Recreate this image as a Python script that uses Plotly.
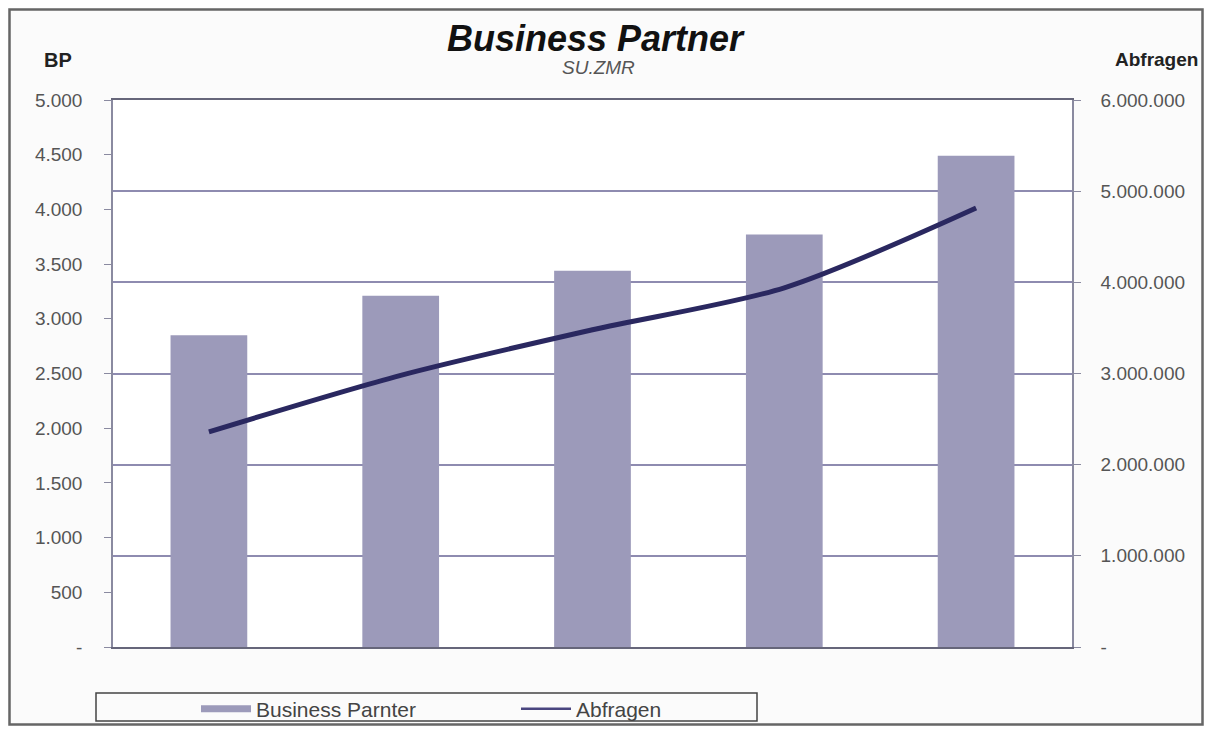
import plotly.graph_objects as go

categories = ["1", "2", "3", "4", "5"]
bp_values = [2850, 3210, 3440, 3770, 4490]
abfragen_values = [2360000, 2980000, 3480000, 3940000, 4815000]

left_tickvals = [0, 500, 1000, 1500, 2000, 2500, 3000, 3500, 4000, 4500, 5000]
left_ticktext = ["-", "500", "1.000", "1.500", "2.000", "2.500", "3.000", "3.500", "4.000", "4.500", "5.000"]
right_tickvals = [0, 1000000, 2000000, 3000000, 4000000, 5000000, 6000000]
right_ticktext = ["-", "1.000.000", "2.000.000", "3.000.000", "4.000.000", "5.000.000", "6.000.000"]

BAR_COLOR = "#9c9aba"
LINE_COLOR = "#2a2860"
GRID_COLOR = "#8e8bb0"
FONT = "Liberation Sans, Arial, sans-serif"

# page body has an 8px margin; design in reference pixel coords, shifted by OFF
OFF = 8
W, H = 1212 - 2 * OFF, 734 - 2 * OFF
PL, PR, PT, PB = 113, 1072, 100, 647  # plot area in reference pixels
L, R, T, B = PL - OFF, W - (PR - OFF), PT - OFF, H - (PB - OFF)
PW, PH = W - L - R, H - T - B


def px(x):
    return (x - OFF - L) / PW


def py(y):
    return (H - B - (y - OFF)) / PH


def cx(x):
    return (x - OFF) / W


def cy(y):
    return 1 - (y - OFF) / H


fig = go.Figure()
fig.add_trace(go.Bar(
    x=categories, y=bp_values, name="Business Parnter",
    marker=dict(color=BAR_COLOR, line=dict(width=0)),
    showlegend=False, yaxis="y",
))
fig.add_trace(go.Scatter(
    x=categories, y=abfragen_values, name="Abfragen", mode="lines",
    line=dict(color=LINE_COLOR, width=5, shape="spline", smoothing=0.8),
    yaxis="y2", showlegend=False,
))
# legend proxies
fig.add_trace(go.Scatter(
    x=[None], y=[None], mode="lines", name="Business Parnter",
    line=dict(color=BAR_COLOR, width=7), yaxis="y",
))
fig.add_trace(go.Scatter(
    x=[None], y=[None], mode="lines", name="Abfragen",
    line=dict(color="#4a4680", width=2.5), yaxis="y2",
))

fig.update_layout(
    width=W, height=H,
    margin=dict(l=L, r=R, t=T, b=B),
    paper_bgcolor="#fbfbfb",
    plot_bgcolor="#ffffff",
    font=dict(family=FONT, size=20, color="#555555"),
    bargap=0.6,
    xaxis=dict(
        showticklabels=False, ticks="", showgrid=False,
        showline=True, linecolor="#66667a", linewidth=1.5, mirror=True,
        zeroline=False,
    ),
    yaxis=dict(
        range=[0, 5000], tickvals=left_tickvals, ticktext=left_ticktext,
        ticks="outside", ticklen=7, tickcolor="#8a8aa0",
        showline=True, linecolor="#8a8aa0", linewidth=1.5,
        showgrid=False, zeroline=False, ticklabelstandoff=18,
        tickfont=dict(size=19, color="#555555"),
    ),
    yaxis2=dict(
        range=[0, 6000000], tickvals=right_tickvals, ticktext=right_ticktext,
        overlaying="y", side="right",
        ticks="outside", ticklen=7, tickcolor="#8a8aa0",
        showline=True, linecolor="#8a8aa0", linewidth=1.5,
        showgrid=True, gridcolor=GRID_COLOR, gridwidth=1.5,
        zeroline=False, ticklabelstandoff=16,
        tickfont=dict(size=19, color="#555555"),
    ),
    legend=dict(
        orientation="h", xref="container", yref="container",
        x=cx(196), y=cy(709), xanchor="left", yanchor="middle",
        bgcolor="rgba(0,0,0,0)", font=dict(size=21, color="#444444"),
        itemwidth=50, entrywidth=255, entrywidthmode="pixels",
        tracegroupgap=0,
    ),
    shapes=[
        dict(type="rect", xref="paper", yref="paper",
             x0=px(96), x1=px(757), y0=py(721), y1=py(693),
             line=dict(color="#444444", width=1.5), fillcolor="rgba(0,0,0,0)"),
        dict(type="rect", xref="paper", yref="paper",
             x0=px(OFF + 1.5), x1=px(OFF + W - 1.5), y0=py(OFF + H - 1.5), y1=py(OFF + 1.5),
             line=dict(color="#666666", width=2.5), fillcolor="rgba(0,0,0,0)"),
    ],
    annotations=[
        dict(text="<b><i>Business Partner</i></b>", xref="paper", yref="paper",
             x=px(596), y=py(38), showarrow=False, xanchor="center", yanchor="middle",
             font=dict(size=36, color="#111111")),
        dict(text="<i>SU.ZMR</i>", xref="paper", yref="paper",
             x=px(598), y=py(68), showarrow=False, xanchor="center", yanchor="middle",
             font=dict(size=19, color="#555555")),
        dict(text="<b>BP</b>", xref="paper", yref="paper",
             x=px(58), y=py(60), showarrow=False, xanchor="center", yanchor="middle",
             font=dict(size=20, color="#222222")),
        dict(text="<b>Abfragen</b>", xref="paper", yref="paper",
             x=px(1156), y=py(60), showarrow=False, xanchor="center", yanchor="middle",
             font=dict(size=19, color="#222222")),
    ],
)

fig.write_html("out.html")
